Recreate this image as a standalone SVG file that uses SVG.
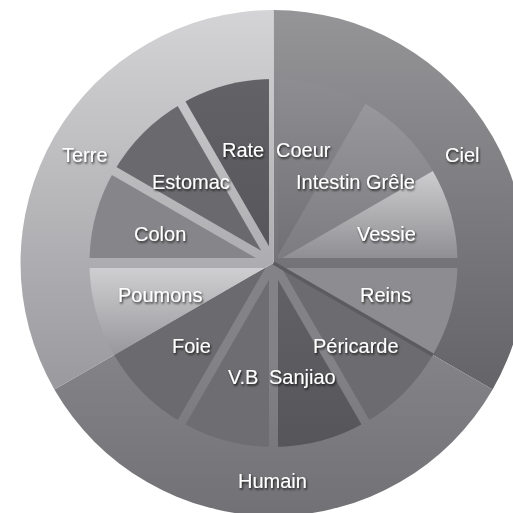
<svg xmlns="http://www.w3.org/2000/svg" width="513" height="513" viewBox="0 0 513 513">
<defs>
<linearGradient id="gTerre" x1="0" y1="10" x2="0" y2="390" gradientUnits="userSpaceOnUse"><stop offset="0" stop-color="#d4d4d6"/><stop offset="1" stop-color="#9a9a9e"/></linearGradient>
<linearGradient id="gCiel" x1="0" y1="10" x2="0" y2="470" gradientUnits="userSpaceOnUse"><stop offset="0" stop-color="#959598"/><stop offset="1" stop-color="#5a5a5e"/></linearGradient>
<linearGradient id="gHumain" x1="0" y1="360" x2="0" y2="513" gradientUnits="userSpaceOnUse"><stop offset="0" stop-color="#838387"/><stop offset="1" stop-color="#727276"/></linearGradient>
<linearGradient id="gVessie" x1="0" y1="0" x2="0" y2="1"><stop offset="0" stop-color="#cdcdcf"/><stop offset="1" stop-color="#8c8c90"/></linearGradient>
<linearGradient id="gPoumons" x1="0" y1="0" x2="0" y2="1"><stop offset="0" stop-color="#d2d2d4"/><stop offset="1" stop-color="#98989c"/></linearGradient>
<linearGradient id="gDark" x1="0" y1="0" x2="0" y2="1"><stop offset="0" stop-color="#636367"/><stop offset="1" stop-color="#55555a"/></linearGradient>
<linearGradient id="gCoeur" x1="0" y1="0" x2="0" y2="1"><stop offset="0" stop-color="#8e8e92"/><stop offset="1" stop-color="#707074"/></linearGradient>
<linearGradient id="gInt" x1="0" y1="0" x2="0" y2="1"><stop offset="0" stop-color="#98989c"/><stop offset="1" stop-color="#7c7c80"/></linearGradient>
<filter id="sh" x="-20%" y="-30%" width="140%" height="170%"><feDropShadow dx="1" dy="1.6" stdDeviation="1" flood-color="#000" flood-opacity="0.8"/></filter>
<mask id="gaps" maskUnits="userSpaceOnUse" x="0" y="0" width="513" height="513">
<rect width="513" height="513" fill="#fff"/>
<g stroke="#000" stroke-width="9">
<line x1="273.5" y1="263" x2="273.5" y2="63"/>
<line x1="273.5" y1="263" x2="473.5" y2="263" stroke-width="10"/>
<line x1="273.5" y1="263" x2="373.5" y2="436.2"/>
<line x1="273.5" y1="263" x2="273.5" y2="463"/>
<line x1="273.5" y1="263" x2="173.5" y2="436.2"/>
<line x1="273.5" y1="263" x2="73.5" y2="263" stroke-width="10"/>
<line x1="273.5" y1="263" x2="100.3" y2="163"/>
<line x1="273.5" y1="263" x2="173.5" y2="89.8"/>
</g>
</mask>
<style>
text{font-family:"Liberation Sans",Arial,sans-serif;font-size:20px;fill:#fff;filter:url(#sh)}
</style>
</defs>
<g id="outer">
<path id="ciel" d="M273.5 263 L273.5 10 A253 253 0 0 1 492.6 389.5 Z" fill="url(#gCiel)"/>
<path id="humain" d="M273.5 263 L492.6 389.5 A253 253 0 0 1 54.4 389.5 Z" fill="url(#gHumain)"/>
<path id="terre" d="M273.5 263 L54.4 389.5 A253 253 0 0 1 273.5 10 Z" fill="url(#gTerre)"/>
</g>
<g id="wedges" mask="url(#gaps)">
<path id="coeur" d="M273.5 263 L273.5 79 A184 184 0 0 1 365.5 103.65 Z" fill="url(#gCoeur)"/>
<path id="intestin" d="M273.5 263 L365.5 103.65 A184 184 0 0 1 432.85 171 Z" fill="url(#gInt)"/>
<path id="vessie" d="M273.5 263 L432.85 171 A184 184 0 0 1 457.5 263 Z" fill="url(#gVessie)"/>
<path id="reins" d="M273.5 263 L457.5 263 A184 184 0 0 1 432.85 355 Z" fill="#8d8d91"/>
<path id="pericarde" d="M273.5 263 L432.85 355 A184 184 0 0 1 365.5 422.35 Z" fill="#6c6c70"/>
<path id="sanjiao" d="M273.5 263 L365.5 422.35 A184 184 0 0 1 273.5 447 Z" fill="url(#gDark)"/>
<path id="vb" d="M273.5 263 L273.5 447 A184 184 0 0 1 181.5 422.35 Z" fill="#6e6e72"/>
<path id="foie" d="M273.5 263 L181.5 422.35 A184 184 0 0 1 114.15 355 Z" fill="#6b6b6f"/>
<path id="poumons" d="M273.5 263 L114.15 355 A184 184 0 0 1 89.5 263 Z" fill="url(#gPoumons)"/>
<path id="colon" d="M273.5 263 L89.5 263 A184 184 0 0 1 114.15 171 Z" fill="#86868a"/>
<path id="estomac" d="M273.5 263 L114.15 171 A184 184 0 0 1 181.5 103.65 Z" fill="#6a6a6e"/>
<path id="rate" d="M273.5 263 L181.5 103.65 A184 184 0 0 1 273.5 79 Z" fill="url(#gDark)"/>
</g>
<g id="connectors">
<line x1="273.5" y1="263" x2="432.85" y2="355" stroke="#5c5c60" stroke-width="3.5"/>
</g>
<g id="labels">
<text x="62" y="162">Terre</text>
<text x="445" y="162">Ciel</text>
<text x="222" y="157">Rate</text>
<text x="276" y="157">Coeur</text>
<text x="152" y="189">Estomac</text>
<text x="296" y="189">Intestin Grêle</text>
<text x="134" y="241">Colon</text>
<text x="357" y="241">Vessie</text>
<text x="118" y="302">Poumons</text>
<text x="360" y="302">Reins</text>
<text x="172" y="353">Foie</text>
<text x="313" y="353">Péricarde</text>
<text x="228" y="384">V.B</text>
<text x="269" y="384">Sanjiao</text>
<text x="238" y="488">Humain</text>
</g>
</svg>
